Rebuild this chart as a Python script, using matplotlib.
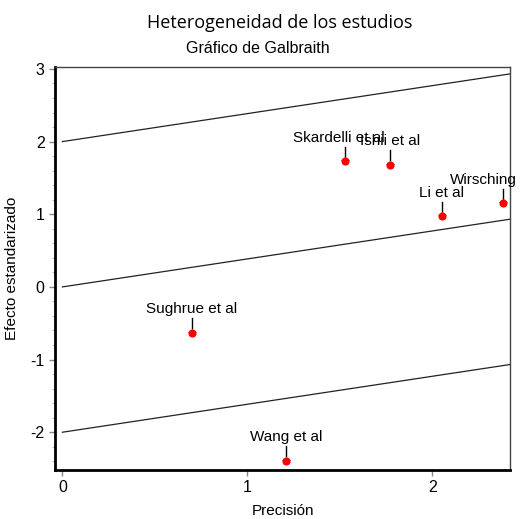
import matplotlib.pyplot as plt
import numpy as np
plt.rcParams['axes.unicode_minus'] = False

estudios = ['Skardelli et al', 'Ishii et al', 'Li et al', 'Wirsching', 'Sughrue et al', 'Wang et al']
precision = [1.53, 1.77, 2.05, 2.38, 0.70, 1.21]
efecto = [1.73, 1.68, 0.97, 1.15, -0.63, -2.39]
pendiente = 0.385
limites = [2, 0, -2]

fig = plt.figure(figsize=(5.2, 5.19), dpi=100)
ax = fig.add_axes([0.1058, 0.0944, 0.875, 0.777])

xs = np.array([0, 2.42])
for b in limites:
    ax.plot(xs, b + pendiente * xs, color='#222222', lw=0.9)

ax.scatter(precision, efecto, s=34, color='red', marker='o', zorder=3, linewidths=0)
ax.scatter(precision, efecto, s=50, color='red', marker='*', zorder=3, linewidths=0)

# desplazamiento horizontal de cada etiqueta (en puntos)
dx = [-5, 0, 0, -14, 0, 0]
for nombre, x, y, d in zip(estudios, precision, efecto, dx):
    ax.plot([x, x], [y + 0.06, y + 0.2], color='black', lw=1, zorder=2)
    ax.annotate(nombre, xy=(x, y), xytext=(d, 12), textcoords='offset points',
                ha='center', va='bottom', fontsize=11, family='Liberation Sans',
                annotation_clip=False)

ax.set_xlim(-0.04, 2.42)
ax.set_ylim(-2.52, 3.03)
ax.set_xticks([0, 1, 2])
ax.set_yticks([-2, -1, 0, 1, 2, 3])
ax.set_yticks(np.arange(-2.4, 3.0, 0.2), minor=True)
ax.tick_params(axis='both', labelsize=11.5, length=4, color='#888888', width=1)
ax.tick_params(axis='y', which='minor', length=2, color='#aaaaaa')
for lab in ax.get_xticklabels() + ax.get_yticklabels():
    lab.set_family('Liberation Sans')

ax.spines['left'].set_linewidth(2)
ax.spines['bottom'].set_linewidth(2)
ax.spines['top'].set_linewidth(1)
ax.spines['right'].set_linewidth(1)
ax.spines['top'].set_color('#444444')
ax.spines['right'].set_color('#444444')

ax.set_xlabel('Precisión', fontsize=11, family='Liberation Sans', labelpad=6)
ax.set_ylabel('Efecto estandarizado', fontsize=11, family='Liberation Sans', labelpad=8)

fig.text(0.538, 0.955, 'Heterogeneidad de los estudios', ha='center', va='center',
         fontsize=13, family='Open Sans')
fig.text(0.496, 0.907, 'Gráfico de Galbraith', ha='center', va='center',
         fontsize=11.5, family='Liberation Sans')

fig.savefig('out.png', dpi=100)
